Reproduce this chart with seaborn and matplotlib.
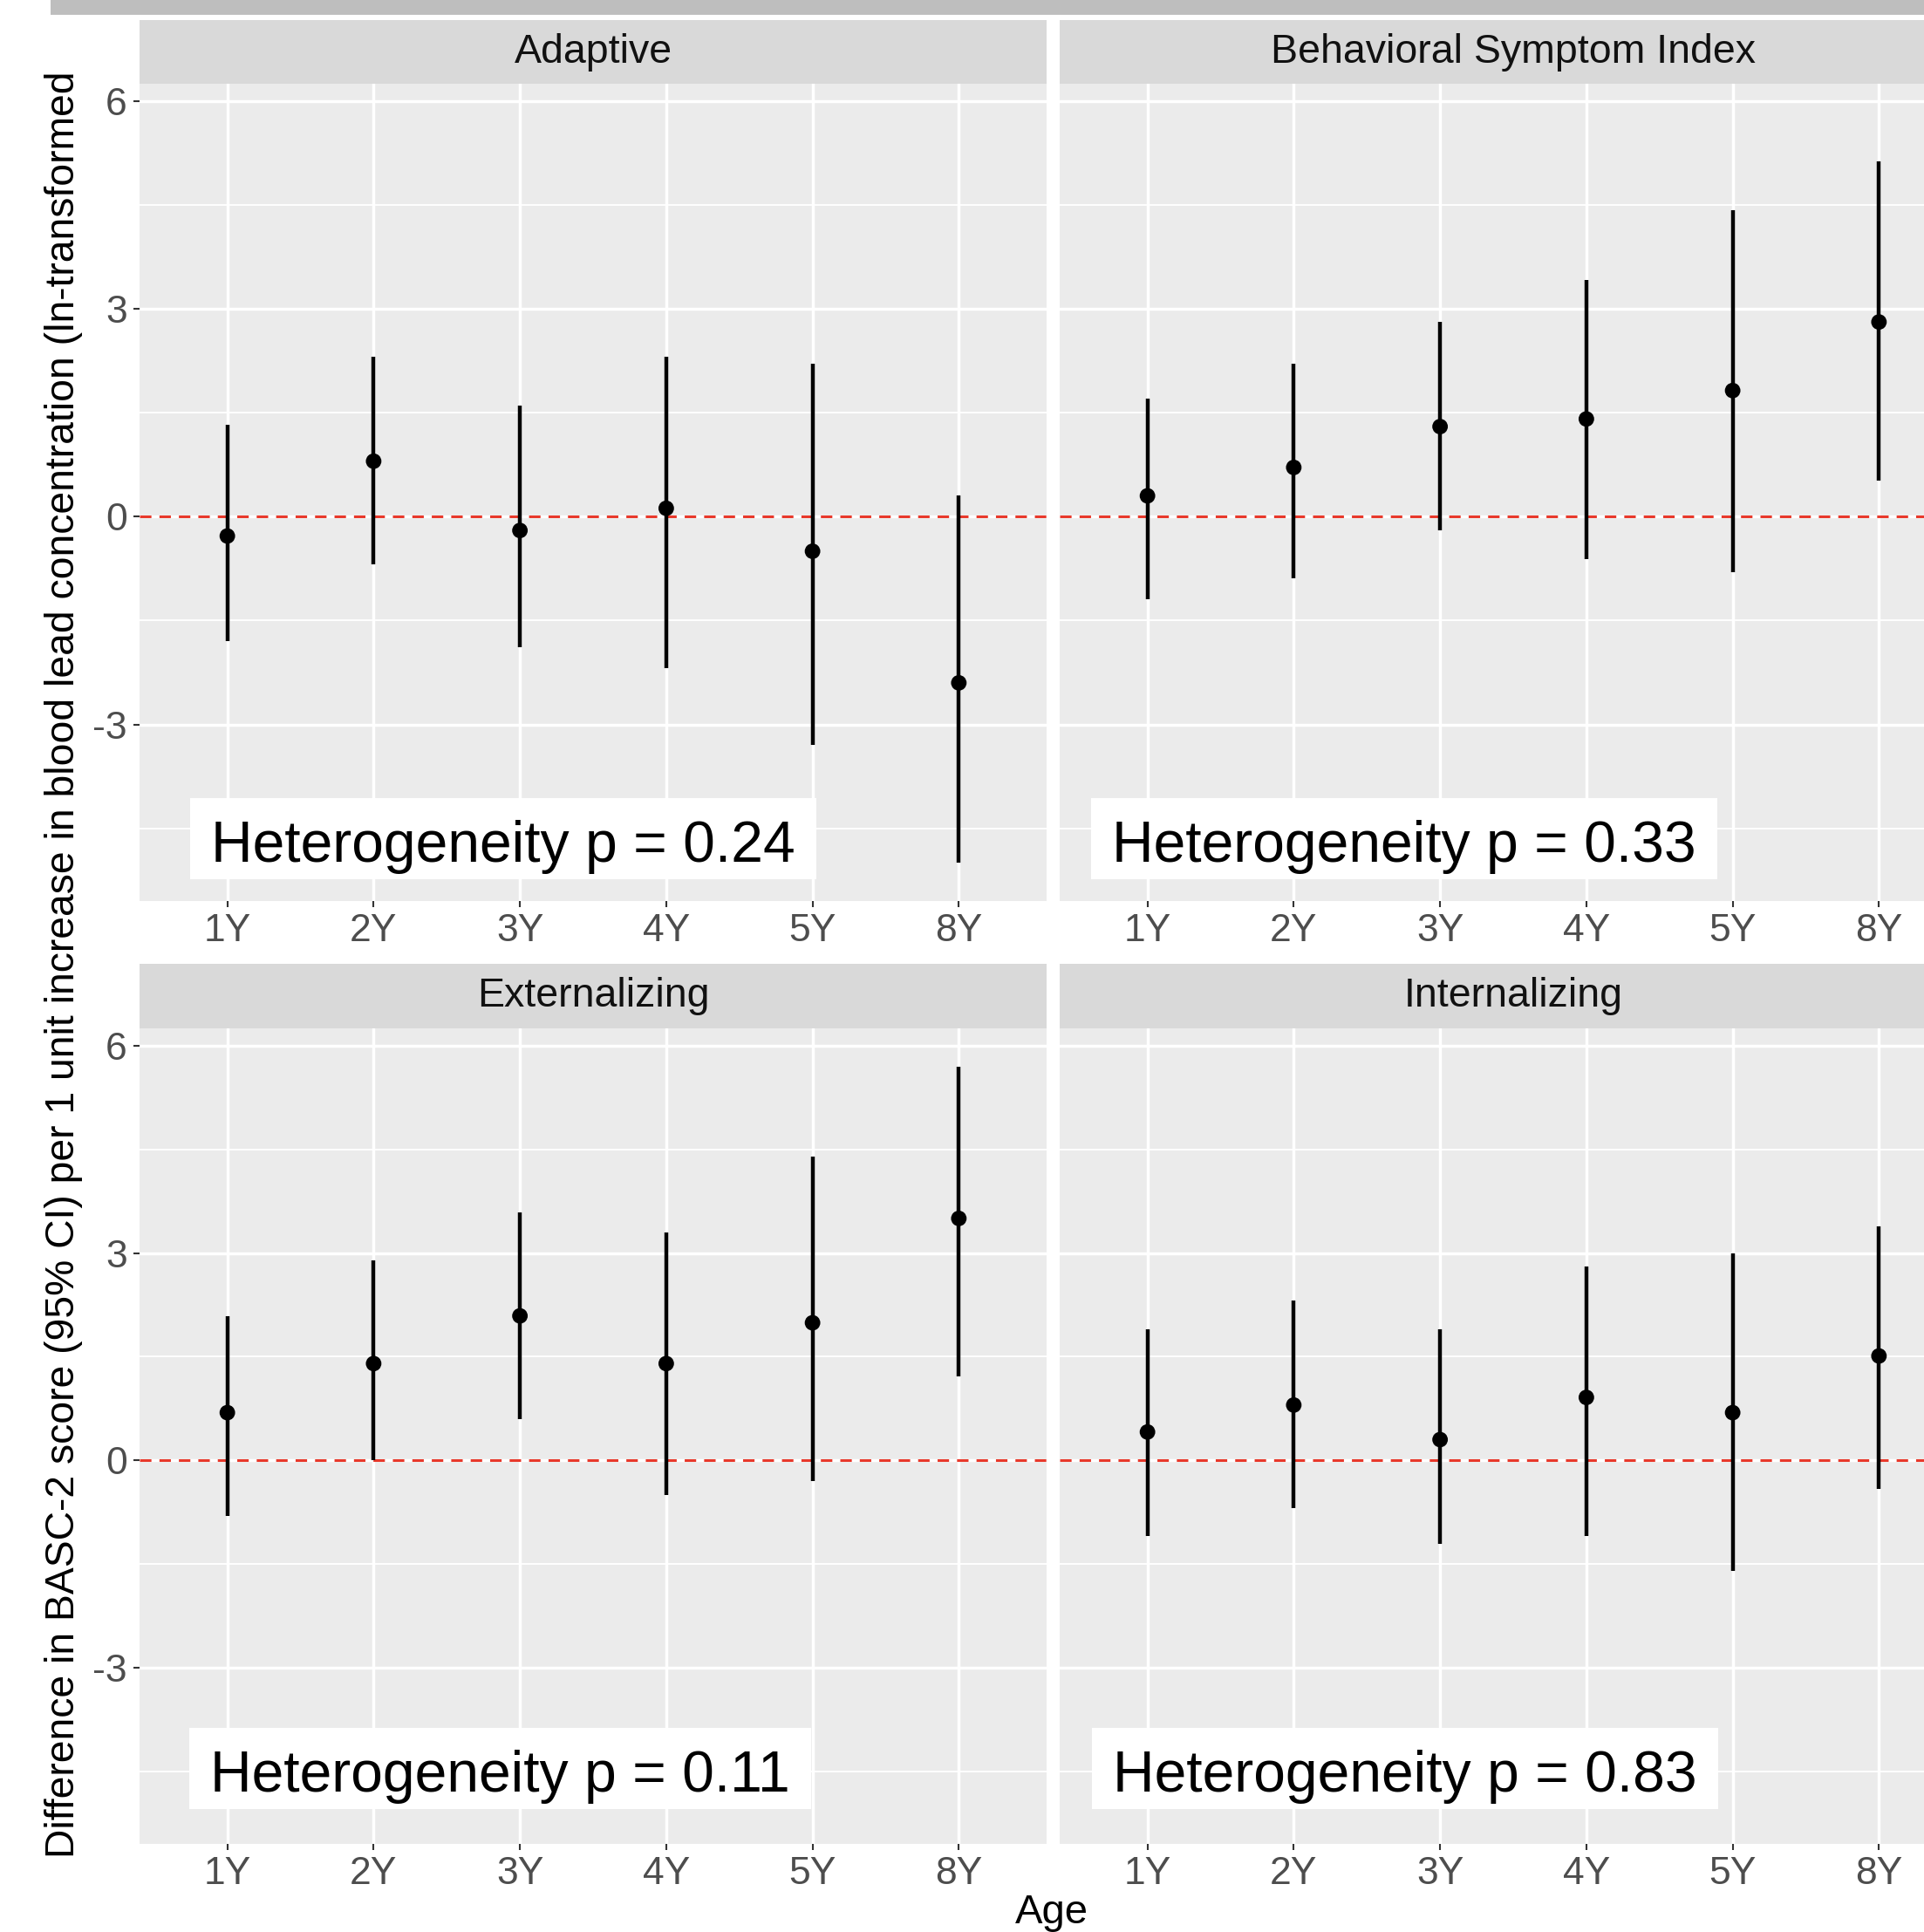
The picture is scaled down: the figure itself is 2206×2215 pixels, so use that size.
import numpy as np
import pandas as pd
import seaborn as sns
import matplotlib.pyplot as plt
from matplotlib.patches import Rectangle

# data
ages = ["1Y", "2Y", "3Y", "4Y", "5Y", "8Y"]
outcomes = ["Adaptive", "Behavioral Symptom Index", "Externalizing", "Internalizing"]

est_adaptive = [-0.28, 0.80, -0.20, 0.12, -0.50, -2.40]
lo_adaptive = [-1.80, -0.69, -1.89, -2.19, -3.29, -5.00]
hi_adaptive = [1.32, 2.31, 1.60, 2.31, 2.21, 0.30]

est_bsi = [0.30, 0.71, 1.30, 1.41, 1.82, 2.81]
lo_bsi = [-1.19, -0.89, -0.20, -0.61, -0.80, 0.52]
hi_bsi = [1.71, 2.21, 2.81, 3.42, 4.42, 5.13]

est_ext = [0.69, 1.40, 2.09, 1.40, 1.99, 3.50]
lo_ext = [-0.80, 0.00, 0.60, -0.50, -0.30, 1.21]
hi_ext = [2.09, 2.89, 3.59, 3.30, 4.40, 5.70]

est_int = [0.41, 0.80, 0.30, 0.91, 0.69, 1.51]
lo_int = [-1.10, -0.69, -1.21, -1.10, -1.60, -0.41]
hi_int = [1.90, 2.31, 1.90, 2.80, 3.00, 3.39]

het_p = [0.24, 0.33, 0.11, 0.83]
label_x = [-0.11, -0.24, -0.115, -0.236]
label_y = [-4.98, -4.98, -4.79, -4.79]

ylabel = ("Difference in BASC-2 score (95% CI) per 1 unit increase in blood lead "
          "concentration (ln-transformed")

df = pd.DataFrame({
    "outcome": np.repeat(outcomes, len(ages)),
    "age": ages * 4,
    "pos": list(range(len(ages))) * 4,
    "est": est_adaptive + est_bsi + est_ext + est_int,
    "lo": lo_adaptive + lo_bsi + lo_ext + lo_int,
    "hi": hi_adaptive + hi_bsi + hi_ext + hi_int,
})

sns.set_theme(style="darkgrid", rc={"axes.facecolor": "#EBEBEB", "grid.color": "white",
                                    "axes.unicode_minus": False})
plt.rcParams["font.family"] = ["Liberation Sans", "DejaVu Sans"]

W, H = 2206, 2215
fig = plt.figure(figsize=(W / 100, H / 100), dpi=100, facecolor="white")


def px_rect(x0, y0, x1, y1):
    return [x0 / W, 1 - y1 / H, (x1 - x0) / W, (y1 - y0) / H]


cols = [(160, 1200), (1215, 2255)]
rows = [(96, 1033), (1179, 2114)]
strips = [(23, 96), (1105, 1179)]

# grey band at the very top
fig.add_artist(Rectangle((58 / W, 1 - 17 / H), 1, 17 / H, transform=fig.transFigure,
                         facecolor="#BEBEBE", edgecolor="none"))

axes = []
labels = []
for i, name in enumerate(outcomes):
    r, c = divmod(i, 2)
    x0, x1 = cols[c]
    y0, y1 = rows[r]
    ax = fig.add_axes(px_rect(x0, y0, x1, y1))
    ax.set_facecolor("#EBEBEB")
    sub = df[df["outcome"] == name]

    ax.axhline(0, color="#E8392B", lw=2.2, dashes=(4.3, 3.0), zorder=2)
    ax.vlines(sub["pos"], sub["lo"], sub["hi"], color="black", lw=3.2, zorder=3)
    sns.scatterplot(data=sub, x="pos", y="est", color="black", s=165, edgecolor="none",
                    ax=ax, zorder=4, legend=False)

    ax.set_xlim(-0.6, 5.6)
    ax.set_ylim(-5.55, 6.25)
    ax.set_xticks(range(len(ages)))
    ax.set_xticklabels(ages)
    ax.set_yticks([-3, 0, 3, 6])
    ax.set_yticks([-4.5, -1.5, 1.5, 4.5], minor=True)
    ax.grid(which="major", color="white", lw=2.5)
    ax.grid(which="minor", axis="y", color="white", lw=1.3)
    ax.grid(which="minor", axis="x", visible=False)
    ax.set_axisbelow(True)
    ax.tick_params(which="major", length=5.3, width=1.5, color="#333333", labelsize=32,
                   labelcolor="#4D4D4D", pad=5, left=True, bottom=True)
    ax.tick_params(which="minor", length=0)
    if c == 1:
        ax.tick_params(axis="y", left=False, labelleft=False)
    ax.set_xlabel("")
    ax.set_ylabel("")
    for s in ax.spines.values():
        s.set_visible(False)

    t = ax.text(label_x[i], label_y[i], f"Heterogeneity p = {het_p[i]:.2f}", ha="left",
                va="baseline", fontsize=47.5, color="black", zorder=6)
    labels.append((ax, t, label_x[i], label_y[i]))

    # strip
    sy0, sy1 = strips[r]
    sax = fig.add_axes(px_rect(x0, sy0, x1, sy1))
    sax.set_facecolor("#D9D9D9")
    sax.set_xticks([])
    sax.set_yticks([])
    sax.grid(False)
    for s in sax.spines.values():
        s.set_visible(False)
    sax.text(0.5, 0.5, name, ha="center", va="center", fontsize=33.5, color="#111111",
             transform=sax.transAxes)

ytxt = fig.text(73 / W, 1 - 2130 / H, ylabel, rotation=90, ha="center", va="bottom",
                fontsize=34, color="black")
fig.text(1206 / W, 1 - 2171 / H, "Age", ha="center", va="top", fontsize=34, color="black")

# white boxes behind the heterogeneity labels, fit y-label length
fig.canvas.draw()
bb = ytxt.get_window_extent()
ytxt.set_fontsize(34 * 2045 / bb.height)

for ax, t, lx, ly in labels:
    bb = t.get_window_extent()
    bx, by = ax.transData.transform((lx, ly))
    inv = ax.transAxes.inverted()
    (ax0, ay0) = inv.transform((bb.x0 - 24, by - 20))
    (ax1, ay1) = inv.transform((bb.x1 + 24, by + 73))
    ax.add_patch(Rectangle((ax0, ay0), ax1 - ax0, ay1 - ay0, transform=ax.transAxes,
                           facecolor="white", edgecolor="none", zorder=5))

fig.savefig("out.png", dpi=100, facecolor="white")
